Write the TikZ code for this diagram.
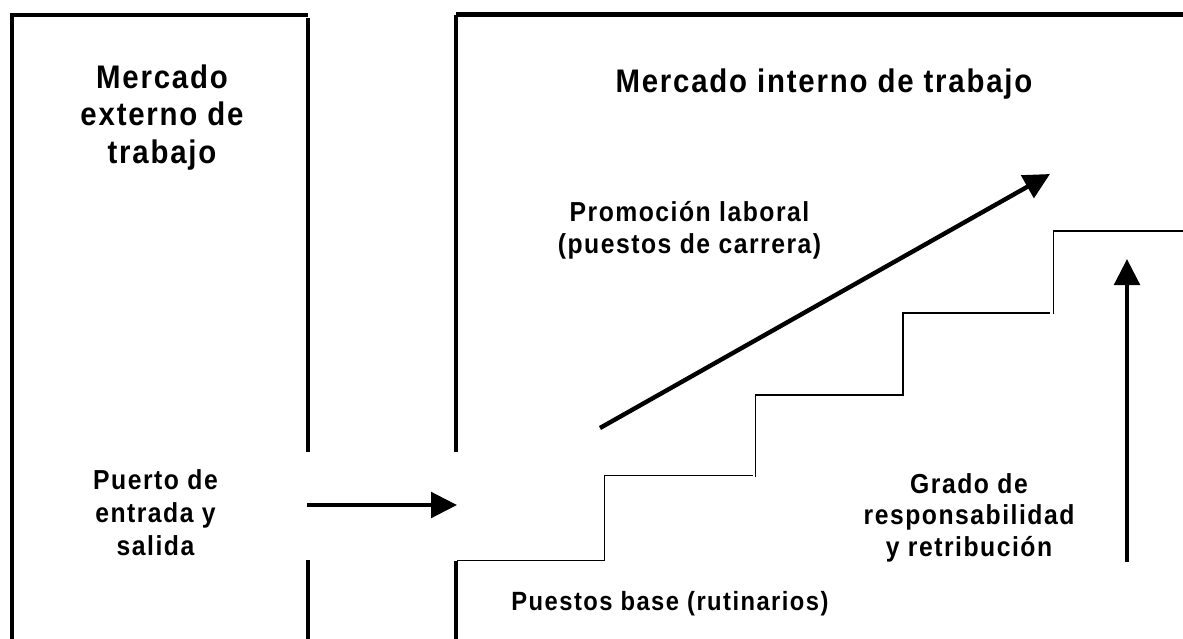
\documentclass[tikz,border=0pt]{standalone}
\usepackage{fontspec}
\setmainfont{Liberation Sans}
\usetikzlibrary{arrows.meta}
\newfontface\fb{Liberation Sans Bold}[FakeStretch=0.9,LetterSpace=5.5]
\tikzset{
  wall/.style={line width=3.3pt},
  stair/.style={line width=1.3pt},
  bigarrow/.style={line width=3.3pt,-{Triangle[length=19.5pt,width=19pt]}},
  lbl/.style={inner sep=0pt,outer sep=0pt,align=center,anchor=base},
  ttl/.style={lbl,font={\fb\fontsize{24.5pt}{28.1pt}\selectfont}},
  txt/.style={lbl,font={\fb\fontsize{20.6pt}{#1}\selectfont}}
}
\begin{document}
\begin{tikzpicture}[x=0.75pt,y=-0.75pt]
\fill[white] (0,0) rectangle (1183,639);
\useasboundingbox (0,0) rectangle (1183,639);
% left box (external market)
\draw[wall] (10,15) -- (308,15);
\draw[wall] (12,15) -- (12,639);
\draw[wall] (308,18) -- (308,452);
\draw[wall] (308,560) -- (308,639);
% right box (internal market)
\draw[wall] (456,14.5) -- (1183,14.5);
\draw[wall] (456,14.5) -- (456,452);
\draw[wall] (456,561) -- (456,639);
% staircase
\draw[stair] (457,560.5) -- (604.5,560.5) -- (604.5,475.5) -- (753,475.5);
\draw[stair] (755.5,477) -- (755.5,395) -- (902,395);
\draw[stair] (903,396) -- (903,313) -- (1050,313);
\draw[stair] (1053.5,314) -- (1053.5,231) -- (1183,231);
% labels (base anchor = baseline of the last line)
\node[ttl] (ext) at (162,163) {Mercado\\externo de\\trabajo};
\node[ttl] (int) at (824,92) {Mercado interno de trabajo};
\node[txt=23.6pt] (promo) at (689.5,253) {Promoción laboral\\(puestos de carrera)};
\node[lbl,font={\fb\fontsize{19.8pt}{23.6pt}\selectfont}] (base) at (670,610) {Puestos base (rutinarios)};
\node[txt=23.6pt] (grado) at (969,556) {Grado de\\responsabilidad\\y retribución};
\node[txt=24.4pt] (puerto) at (155.5,555) {Puerto de\\entrada y\\salida};
% arrows
\coordinate (inS) at (307,505);
\coordinate (inE) at (457,505);
\draw[bigarrow] (inS) -- (inE);
\coordinate (prS) at (600,428);
\coordinate (prE) at (1050,174);
\draw[bigarrow] (prS) -- (prE);
\coordinate (grS) at (1127,562);
\coordinate (grE) at (1127,259);
\draw[bigarrow] (grS) -- (grE);
\end{tikzpicture}
\end{document}
